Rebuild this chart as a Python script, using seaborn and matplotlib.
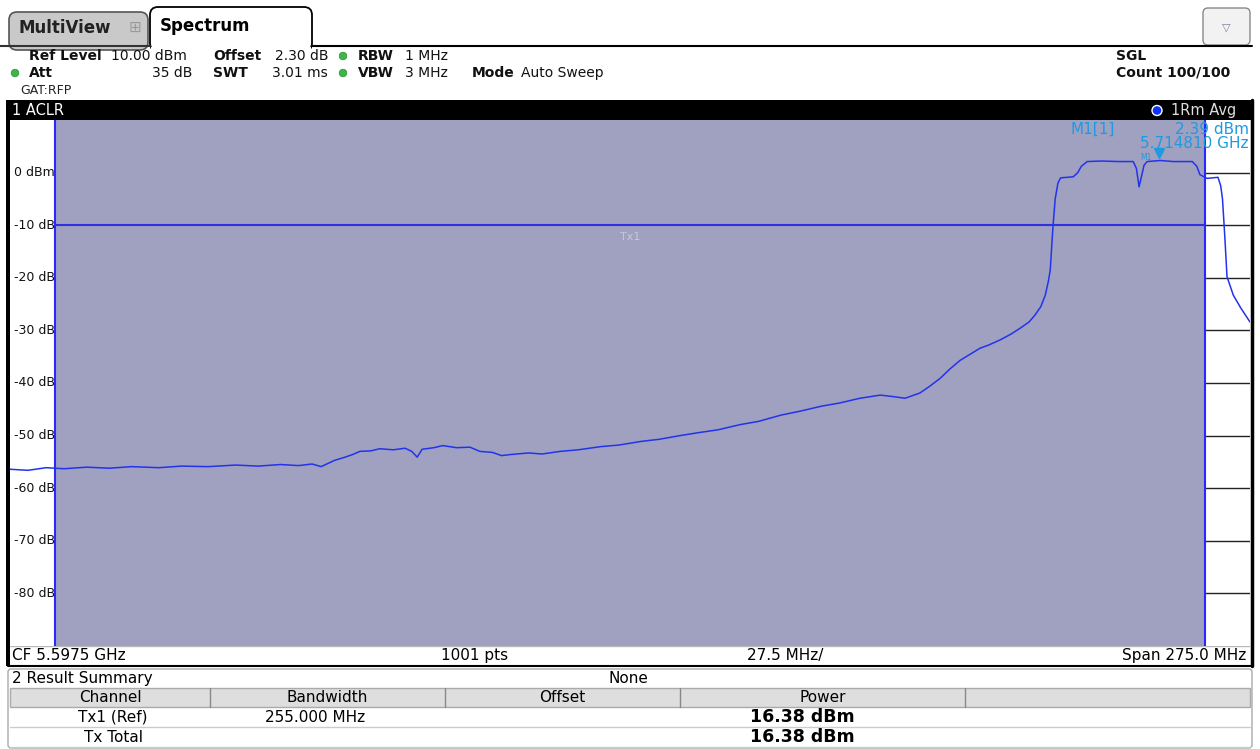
import numpy as np
import pandas as pd
import seaborn as sns
import matplotlib.pyplot as plt
from matplotlib.patches import Rectangle, FancyBboxPatch, Circle
from matplotlib.transforms import offset_copy

sns.set_theme(style="white")
plt.rcParams['font.family'] = ['DejaVu Sans']

# sweep settings
cf_mhz = 5597.5
span_mhz = 275.0
start_mhz = cf_mhz - span_mhz / 2
ch_bw_mhz = 255.0
limit_db = -10
y_ticks = [0, -10, -20, -30, -40, -50, -60, -70, -80]
y_tick_labels = ["0 dBm", "-10 dB", "-20 dB", "-30 dB", "-40 dB",
                 "-50 dB", "-60 dB", "-70 dB", "-80 dB"]

# trace: offset from start frequency (MHz) / level (dBm)
freq_offset_mhz = [
    0.0, 4, 8, 12, 17, 22, 27, 33, 38, 44, 50, 55, 60, 64, 67, 69, 72, 74.3,
    76, 77.6, 80, 82, 85, 87.6, 89.1, 90.3, 91.4, 94, 96, 99, 102, 104.2, 107,
    109, 111, 115, 118, 122, 126, 131, 135, 140, 144, 148.6, 153, 157, 162,
    166, 171, 175, 180, 184, 188.5, 193, 196, 198.5, 201.8, 204, 206.3, 208.5,
    210.7, 213, 215.1, 217, 219.6, 222, 224, 226, 227.3, 228.6, 229.6, 230.3,
    230.7, 231.3, 231.8, 232.4, 233, 235.8, 236.8, 237.6, 238.9, 242, 246,
    249.1, 249.8, 250.4, 251, 251.5, 252.2, 255.1, 258, 262.2, 263.2, 263.9,
    265.5, 267.9, 268.5, 268.9, 269.4, 269.9, 271.3, 273, 275.0]
level_dbm = [
    -56.4, -56.6, -56.1, -56.3, -56.0, -56.2, -55.9, -56.1, -55.8, -55.9,
    -55.6, -55.8, -55.5, -55.7, -55.4, -55.9, -54.7, -54.1, -53.6, -53.0,
    -52.9, -52.5, -52.7, -52.4, -53.0, -54.1, -52.6, -52.3, -51.9, -52.3,
    -52.2, -53.0, -53.2, -53.8, -53.6, -53.3, -53.5, -53.0, -52.7, -52.1,
    -51.8, -51.1, -50.7, -50.0, -49.4, -48.9, -47.9, -47.3, -46.1, -45.4,
    -44.4, -43.8, -42.9, -42.3, -42.6, -42.9, -41.9, -40.6, -39.1, -37.3,
    -35.7, -34.5, -33.4, -32.8, -31.8, -30.7, -29.6, -28.4, -27.1, -25.5,
    -23.3, -20.6, -18.5, -10.3, -5.0, -2.0, -1.0, -0.8, 0.0, 1.2,
    2.1, 2.2, 2.1, 2.1, 0.8, -2.7, -0.5, 1.4, 2.1, 2.3,
    2.1, 2.1, 1.2, -0.4, -1.1, -0.9, -2.5, -5.0, -12.0, -19.8,
    -23.3, -25.8, -28.4]

marker_freq_mhz = 5714.81
marker_level = 2.39

table_cols = ["Channel", "Bandwidth", "Offset", "Power", ""]
table_rows = [["Tx1 (Ref)", "255.000 MHz", "", "16.38 dBm"],
              ["Tx Total", "", "", "16.38 dBm"]]

df = pd.DataFrame({"freq": start_mhz + np.array(freq_offset_mhz),
                   "level": level_dbm})

W, H = 1260, 749
fig = plt.figure(figsize=(W / 100, H / 100), dpi=100)
fig.patch.set_facecolor("white")

# chrome layer in pixel coordinates
ch = fig.add_axes([0, 0, 1, 1], zorder=0)
ch.set_xlim(0, W)
ch.set_ylim(H, 0)
ch.axis("off")

blue_txt = "#1E9BE0"

# tabs
ch.add_patch(FancyBboxPatch((9, 12), 139, 38, boxstyle="round,pad=0,rounding_size=8",
                            fc="#C9C9C9", ec="#555555", lw=1.2))
ch.add_patch(FancyBboxPatch((150, 7), 162, 44, boxstyle="round,pad=0,rounding_size=8",
                            fc="white", ec="black", lw=1.3))
ch.plot([0, 150], [45.5, 45.5], color="#333333", lw=1.5)
ch.plot([312, 1252], [45.5, 45.5], color="black", lw=1.5)
ch.add_patch(Rectangle((151, 46.5), 160, 6, fc="white", ec="none"))
ch.text(18, 28, "MultiView", fontsize=12, fontweight="bold", color="#222222", va="center")
ch.text(129, 27, "\u229e", fontsize=11, color="#9A9A9A", va="center")
ch.text(160, 26, "Spectrum", fontsize=12, fontweight="bold", color="black", va="center")
ch.add_patch(FancyBboxPatch((1203, 8), 47, 37, boxstyle="round,pad=0,rounding_size=5",
                            fc="#F2F2F2", ec="#888888", lw=1))
ch.text(1226.5, 27, "\u25bd", fontsize=8, color="#8080A0", ha="center", va="center")

# setting info
info = [
    (29, 56, "Ref Level", "bold", "left"), (111, 56, "10.00 dBm", "normal", "left"),
    (213, 56, "Offset", "bold", "left"), (275, 56, "2.30 dB", "normal", "left"),
    (358, 56, "RBW", "bold", "left"), (405, 56, "1 MHz", "normal", "left"),
    (29, 73, "Att", "bold", "left"), (192, 73, "35 dB", "normal", "right"),
    (213, 73, "SWT", "bold", "left"), (272, 73, "3.01 ms", "normal", "left"),
    (358, 73, "VBW", "bold", "left"), (405, 73, "3 MHz", "normal", "left"),
    (472, 73, "Mode", "bold", "left"), (521, 73, "Auto Sweep", "normal", "left"),
    (1116, 56, "SGL", "bold", "left"), (1116, 73, "Count 100/100", "bold", "left"),
]
for x, y, s, w, ha in info:
    ch.text(x, y, s, fontsize=10, fontweight=w, color="#111111", ha=ha, va="center")
ch.text(20, 90, "GAT:RFP", fontsize=9, color="#222222", va="center")
for x, y in [(343, 56), (343, 73), (15, 73)]:
    ch.add_patch(Circle((x, y), 3.8, fc="#3CB84A", ec="#2A8A35", lw=0.5))

# diagram title bar and frame
ch.add_patch(Rectangle((8, 100), 1244, 20, fc="black", ec="none"))
ch.text(12, 110.5, "1 ACLR", fontsize=10.5, color="white", va="center")
ch.add_patch(Circle((1157, 110.5), 5, fc="#1030FF", ec="white", lw=1))
ch.text(1236, 110.5, "1Rm Avg", fontsize=10.5, color="#DDDDDD", ha="right", va="center")
ch.add_patch(Rectangle((6, 100), 4, 566, fc="black", ec="none"))
ch.plot([1251.5, 1251.5], [100, 666], color="black", lw=2.5)
ch.plot([10, 1250], [646, 646], color="#BBBBBB", lw=1)
ch.plot([8, 1252], [665.5, 665.5], color="black", lw=1.5)
ch.text(12, 655.5, "CF 5.5975 GHz", fontsize=11, color="black", va="center")
ch.text(475, 655.5, "1001 pts", fontsize=11, color="black", ha="center", va="center")
ch.text(785, 655.5, "27.5 MHz/", fontsize=11, color="black", ha="center", va="center")
ch.text(1246, 655.5, "Span 275.0 MHz", fontsize=11, color="black", ha="right", va="center")

# result summary table
ch.add_patch(FancyBboxPatch((8, 669), 1244, 79, boxstyle="round,pad=0,rounding_size=3",
                            fc="white", ec="#AAAAAA", lw=1))
ch.text(12, 678.5, "2 Result Summary", fontsize=11, color="black", va="center")
ch.text(628, 678.5, "None", fontsize=11, color="black", ha="center", va="center")
col_edges = [10, 210, 445, 680, 965, 1250]
ch.add_patch(Rectangle((10, 688), 1240, 19, fc="#DEDEDE", ec="#AAAAAA", lw=1))
for xe in col_edges[1:-1]:
    ch.plot([xe, xe], [688, 707], color="#888888", lw=1)
for i, name in enumerate(table_cols):
    xc = (col_edges[i] + col_edges[i + 1]) / 2
    ch.text(xc, 698, name, fontsize=11, color="black", ha="center", va="center")
row_x = [113, 315, 562, 802]
for r, row in enumerate(table_rows):
    yc = 717.5 + r * 19.5
    ch.plot([10, 1250], [yc + 9.7, yc + 9.7], color="#CCCCCC", lw=1)
    for i, val in enumerate(row):
        bold = i == 3
        ch.text(row_x[i], yc, val, fontsize=12.5 if bold else 11,
                fontweight="bold" if bold else "normal", color="black",
                ha="center", va="center")

# spectrum diagram
ax = fig.add_axes([10 / W, 1 - 646 / H, 1240 / W, 526 / H], zorder=1)
ax.set_facecolor("white")
ax.set_xlim(start_mhz, start_mhz + span_mhz)
ax.set_ylim(-90, 10)
ax.set_xticks([])
ax.set_yticks([])
for sp in ax.spines.values():
    sp.set_visible(False)

ch_lo, ch_hi = cf_mhz - ch_bw_mhz / 2, cf_mhz + ch_bw_mhz / 2
# grid is only visible right of the channel; the channel fill hides the rest
ax.hlines(y_ticks, ch_lo, start_mhz + span_mhz, color="#222222", lw=1, zorder=0)
ax.axvspan(ch_lo, ch_hi, color="#A0A0C0", lw=0, zorder=1)
ax.axvline(ch_lo, color="#2828FF", lw=1.5, zorder=2)
ax.axvline(ch_hi, color="#2828FF", lw=1.5, zorder=2)
ax.hlines(limit_db, ch_lo, ch_hi, color="#3030E0", lw=1.5, zorder=2)
ax.text(cf_mhz, limit_db - 1.2, "Tx1", fontsize=8, color="#C8C8DC",
        ha="center", va="top", zorder=2)

ytrans = ax.get_yaxis_transform()
for v, lab in zip(y_ticks, y_tick_labels):
    ax.text(0.003, v, lab, transform=ytrans, fontsize=9, color="#111111",
            ha="left", va="center", zorder=4)

sns.lineplot(data=df, x="freq", y="level", ax=ax, color="#2233EE", lw=1.1,
             zorder=3, legend=False)
ax.set_xlabel("")
ax.set_ylabel("")

mk_trans = offset_copy(ax.transData, fig=fig, y=5, units="points")
ax.plot([marker_freq_mhz], [marker_level], marker="v", ms=7, color=blue_txt,
        transform=mk_trans, zorder=5, clip_on=False)
# small marker tag just left of the triangle, under the readout
tag_trans = offset_copy(ax.transData, fig=fig, x=-5, y=2, units="points")
ax.text(marker_freq_mhz, marker_level, "M1", transform=tag_trans, fontsize=5.5,
        color=blue_txt, ha="right", va="center", zorder=5)

# marker readout
fig.text(1070 / W, 1 - 129 / H, "M1[1]", fontsize=11, color=blue_txt, va="center")
fig.text(1249 / W, 1 - 129 / H, f"{marker_level:.2f} dBm", fontsize=11,
         color=blue_txt, ha="right", va="center")
fig.text(1249 / W, 1 - 144 / H, f"{marker_freq_mhz / 1000:.6f} GHz", fontsize=11,
         color=blue_txt, ha="right", va="center")

fig.savefig("out.png", dpi=100)
